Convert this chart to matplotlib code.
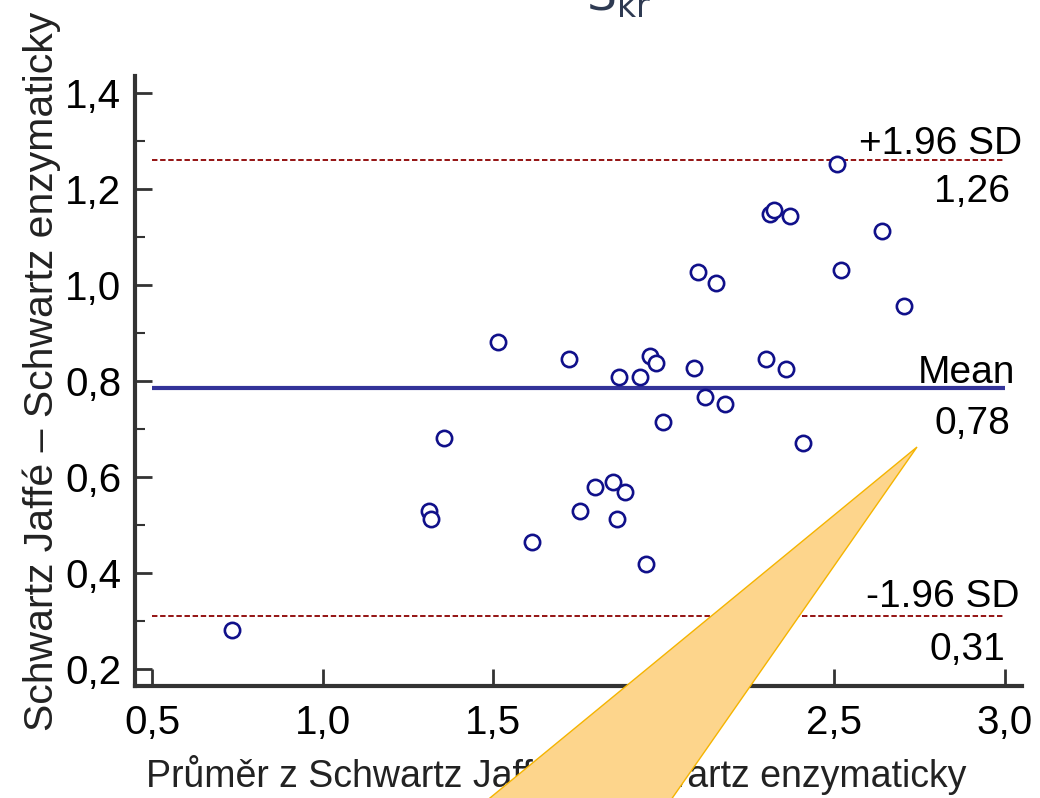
import matplotlib.pyplot as plt
from matplotlib.patches import Polygon

plt.rcParams['font.family'] = ['Liberation Sans', 'DejaVu Sans']

# Bland-Altman data: mean of the two methods vs. difference
prumer = [0.733, 1.311, 1.316, 1.354, 1.512, 1.614, 1.722, 1.755, 1.799,
          1.851, 1.862, 1.867, 1.887, 1.930, 1.947, 1.958, 1.978, 1.998,
          2.089, 2.100, 2.120, 2.153, 2.179, 2.300, 2.311, 2.323, 2.371,
          2.359, 2.408, 2.507, 2.519, 2.638, 2.703]
rozdil = [0.281, 0.529, 0.512, 0.680, 0.880, 0.465, 0.846, 0.528, 0.579,
          0.589, 0.512, 0.808, 0.568, 0.808, 0.418, 0.851, 0.838, 0.715,
          0.826, 1.026, 0.767, 1.003, 0.751, 0.846, 1.147, 1.155, 1.143,
          0.824, 0.671, 1.251, 1.031, 1.112, 0.955]

mean_diff = 0.786
upper_loa = 1.26
lower_loa = 0.31
xticks = [0.5, 1.0, 1.5, 2.0, 2.5, 3.0]
xtick_labels = ['0,5', '1,0', '1,5', '2,0', '2,5', '3,0']
yticks = [0.2, 0.4, 0.6, 0.8, 1.0, 1.2, 1.4]
ytick_labels = ['0,2', '0,4', '0,6', '0,8', '1,0', '1,2', '1,4']

fig = plt.figure(figsize=(10.4, 7.98), dpi=100)
ax = fig.add_axes([0.1298, 0.1404, 0.8529, 0.7644])

# reference lines
ax.plot([0.5, 3.0], [mean_diff, mean_diff], color='#333399', lw=3, solid_capstyle='butt')
ax.plot([0.5, 3.0], [upper_loa, upper_loa], color='#8b0000', lw=1.3, ls=(0, (3, 1.5)))
ax.plot([0.5, 3.0], [lower_loa, lower_loa], color='#8b0000', lw=1.3, ls=(0, (3, 1.5)))

ax.plot(prumer, rozdil, 'o', ms=11, mfc='white', mec='#10108a', mew=1.9, zorder=3)

# annotations at the right
lab = dict(ha='right', va='baseline', fontsize=28, textcoords='offset pixels')
ax.annotate('+1.96 SD', (3.0, upper_loa), xytext=(17, 6), **lab)
ax.annotate('1,26', (3.0, upper_loa), xytext=(5, -42), **lab)
ax.annotate('Mean', (3.0, mean_diff), xytext=(10, 5), **lab)
ax.annotate('0,78', (3.0, mean_diff), xytext=(5, -46), **lab)
ax.annotate('-1.96 SD', (3.0, lower_loa), xytext=(15, 9), **lab)
ax.annotate('0,31', (3.0, lower_loa), xytext=(0, -44), **lab)

ax.set_xlim(0.449, 3.05)
ax.set_ylim(0.1646, 1.435)
ax.set_xticks(xticks)
ax.set_xticklabels(xtick_labels)
ax.set_yticks(yticks)
ax.set_yticklabels(ytick_labels)
ax.set_yticks([0.3, 0.5, 0.7, 0.9, 1.1, 1.3], minor=True)

for s in ['top', 'right']:
    ax.spines[s].set_visible(False)
for s in ['left', 'bottom']:
    ax.spines[s].set_linewidth(3)
    ax.spines[s].set_color('#333333')
ax.tick_params(which='major', direction='in', length=12, width=2, color='#333333',
               labelsize=29, pad=10)
ax.tick_params(axis='x', pad=13)
ax.tick_params(which='minor', direction='in', length=7, width=1.5, color='#333333')

ax.set_xlabel('Průměr z Schwartz Jaffé – Schwartz enzymaticky', fontsize=27, color='#222222')
ax.xaxis.set_label_coords(0.475, -0.113)
ax.set_ylabel('Schwartz Jaffé – Schwartz enzymaticky', fontsize=29.5, color='#222222')
ax.yaxis.set_label_coords(-0.083, 0.515)

# title, mostly cut off at the top edge
fig.text(0.595, 1 - 11 / 798, r'$\mathrm{S}_{\mathrm{kr}}$', fontsize=34, color='#2e3a52',
         ha='center', va='baseline')

# callout triangle overlay
tri = Polygon([[917 / 1040, 1 - 447 / 798], [451 / 1040, 1 - 830 / 798], [650 / 1040, 1 - 830 / 798]],
              closed=True, transform=fig.transFigure, facecolor='#fdd58c', edgecolor='#f5b400',
              lw=1, zorder=10, clip_on=False)
fig.patches.append(tri)

fig.savefig('out.png', dpi=100)
